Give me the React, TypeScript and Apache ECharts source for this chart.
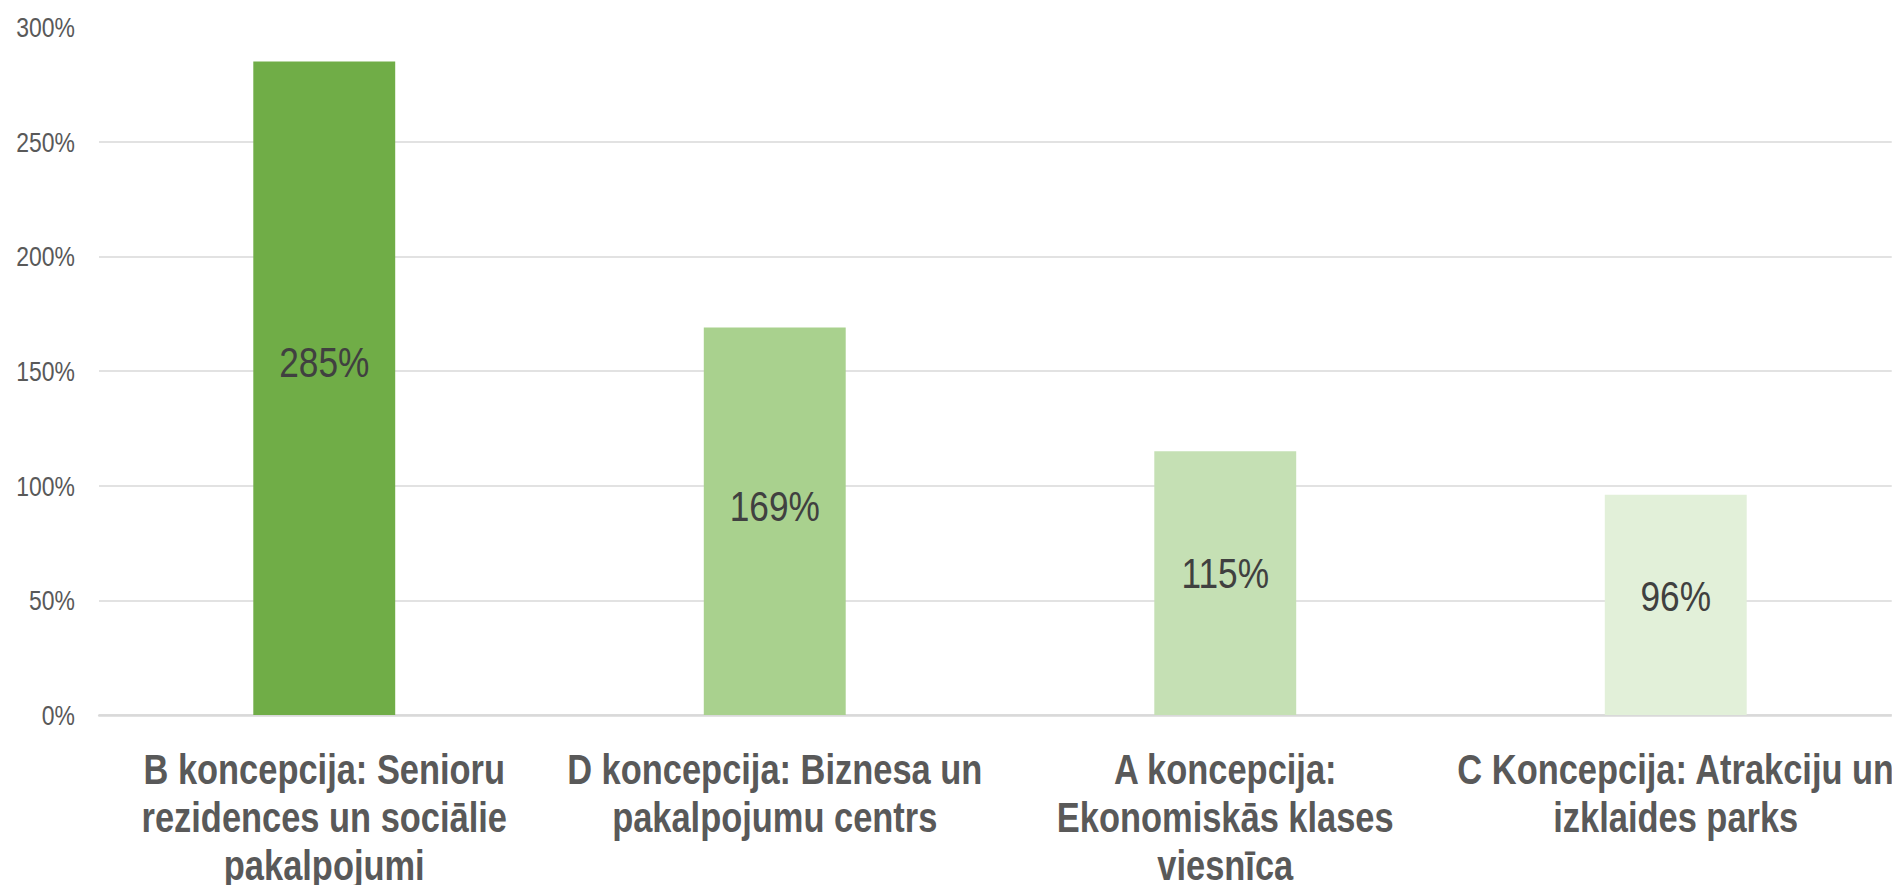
import React, { useEffect, useRef } from "react";
import * as echarts from "echarts";

const categories = [
  "B koncepcija: Senioru\nrezidences un sociālie\npakalpojumi",
  "D koncepcija: Biznesa un\npakalpojumu centrs",
  "A koncepcija:\nEkonomiskās klases\nviesnīca",
  "C Koncepcija: Atrakciju un\nizklaides parks",
];
const values = [285, 169, 115, 96];
const barColors = ["#70AD47", "#A9D18E", "#C5E0B4", "#E2F0D9"];
const yMin = 0;
const yMax = 300;
const yStep = 50;

// The reference is horizontally condensed; render wider and squeeze.
const SQUEEZE = 0.82;
const PAGE_W = 1892;
const PAGE_H = 885;
const INNER_W = Math.round(PAGE_W / SQUEEZE);

const FONT = "'Liberation Sans', Arial, sans-serif";

export default function App() {
  const ref = useRef<HTMLDivElement>(null);
  useEffect(() => {
    if (!ref.current) return;
    const chart = echarts.init(ref.current, undefined, { renderer: "svg" });
    const gridColors: string[] = [];
    for (let v = yMin; v <= yMax; v += yStep) gridColors.push(v === yMax ? "rgba(0,0,0,0)" : "#D9D9D9");
    chart.setOption({
      animation: false,
      backgroundColor: "#FFFFFF",
      grid: {
        left: 99 / SQUEEZE,
        top: 27,
        bottom: 170,
        width: 1802 / SQUEEZE,
        containLabel: false,
        outerBoundsMode: "none",
      },
      xAxis: {
        type: "category",
        data: categories,
        axisTick: { show: false },
        axisLine: { show: true, lineStyle: { color: "#D9D9D9", width: 2.5 } },
        axisLabel: {
          interval: 0,
          margin: 30,
          color: "#595959",
          fontFamily: FONT,
          fontWeight: "bold",
          fontSize: 42,
          lineHeight: 48,
          align: "center",
        },
      },
      yAxis: {
        type: "value",
        min: yMin,
        max: yMax,
        interval: yStep,
        axisLine: { show: false },
        axisTick: { show: false },
        splitLine: { show: true, lineStyle: { color: gridColors, width: 1.5 } },
        axisLabel: {
          margin: 24 / SQUEEZE,
          color: "#595959",
          fontFamily: FONT,
          fontSize: 28,
          formatter: (v: number) => `${v}%`,
        },
      },
      series: [
        {
          type: "bar",
          barWidth: "31.5%",
          data: values.map((v, i) => ({ value: v, itemStyle: { color: barColors[i] } })),
          label: {
            show: true,
            position: ["50%", "46%"],
            align: "center",
            verticalAlign: "middle",
            color: "#404040",
            fontFamily: FONT,
            fontSize: 43,
            formatter: (p: any) => `${p.value}%`,
          },
        },
      ],
    });
    return () => chart.dispose();
  }, []);
  return (
    <div
      style={{
        position: "fixed",
        left: 0,
        top: 0,
        width: PAGE_W,
        height: PAGE_H,
        overflow: "hidden",
        background: "#FFFFFF",
      }}
    >
      <div
        ref={ref}
        style={{
          width: INNER_W,
          height: PAGE_H,
          transform: `scaleX(${SQUEEZE})`,
          transformOrigin: "0 0",
        }}
      />
    </div>
  );
}
